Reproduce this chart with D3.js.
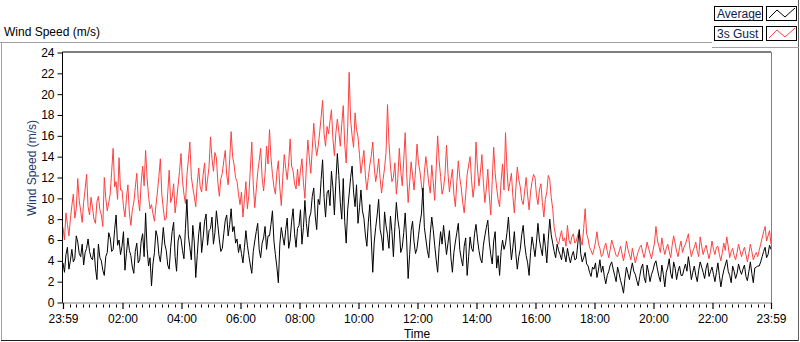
<!DOCTYPE html>
<html>
<head>
<meta charset="utf-8">
<script src="https://cdn.jsdelivr.net/npm/d3@7"></script>
<style>
  html, body { margin: 0; padding: 0; background: #fff; }
  svg text { font-family: "Liberation Sans", Arial, sans-serif; font-size: 12px; }
</style>
</head>
<body>
<div id="chart"></div>
<script>
// Wind speed chart - one day, sampled every 3 minutes (23:59 -> 23:59)

const sampleMinutes = 3;

// Average wind speed (m/s) (one row per hour)
const avgSpeed = [
  3.8, 2.9, 4.6, 5.3, 3.2, 4.0, 5.1, 3.9, 4.2, 6.4, 5.8, 4.7, 4.4, 5.6, 3.6, 4.8, 5.2, 6.1, 4.9, 4.3,
  4.1, 5.2, 3.3, 2.2, 5.6, 4.3, 4.0, 3.1, 2.6, 4.4, 4.8, 6.7, 6.2, 4.9, 5.1, 7.0, 8.4, 5.5, 6.0, 4.6,
  5.4, 6.8, 3.1, 4.7, 6.2, 5.0, 4.5, 3.4, 2.8, 4.9, 5.7, 3.8, 4.1, 5.9, 6.6, 4.4, 8.6, 5.2, 3.5, 4.3,
  1.6, 3.7, 4.8, 6.9, 6.3, 4.6, 3.9, 5.4, 7.2, 5.6, 5.0, 3.6, 3.2, 5.3, 6.8, 7.7, 4.4, 3.0, 5.9, 6.5,
  6.1, 5.0, 4.2, 7.1, 9.9, 6.4, 5.3, 4.1, 7.4, 5.8, 2.4, 4.5, 6.6, 7.7, 4.8, 6.2, 7.8, 8.5, 5.5, 6.9,
  7.1, 8.2, 5.6, 6.7, 8.8, 7.4, 6.0, 4.9, 5.2, 6.6, 7.9, 8.4, 6.4, 7.5, 9.0, 6.8, 7.3, 5.7, 6.1, 4.8,
  5.6, 4.7, 3.8, 5.3, 6.9, 5.5, 4.5, 3.6, 2.8, 4.9, 5.9, 6.8, 7.6, 5.1, 4.3, 5.7, 6.2, 7.3, 5.1, 6.4,
  6.4, 7.5, 8.8, 5.9, 4.6, 3.4, 1.9, 5.6, 7.2, 6.3, 5.5, 7.0, 8.1, 5.2, 6.0, 7.8, 9.0, 6.6, 5.3, 7.1,
  7.4, 8.9, 5.6, 7.2, 9.8, 7.6, 6.3, 8.1, 8.6, 10.2, 11.0, 8.3, 7.0, 9.9, 9.4, 11.8, 13.7, 10.1, 8.2, 10.5,
  10.8, 9.3, 12.6, 11.0, 8.4, 11.6, 14.3, 12.2, 9.6, 8.0, 11.9, 7.8, 5.7, 8.9, 10.4, 12.0, 13.1, 10.6, 9.2, 11.3,
  7.6, 9.1, 10.8, 8.8, 8.1, 6.5, 5.4, 7.7, 9.4, 6.1, 2.9, 5.8, 7.2, 8.4, 9.9, 7.0, 6.3, 5.0, 8.7, 7.4,
  6.5, 5.2, 8.3, 6.8, 4.4, 7.3, 9.6, 8.0, 7.0, 4.8, 5.3, 6.7, 8.6, 5.9, 2.3, 4.6, 6.9, 7.8, 5.8, 4.7,
  5.2, 6.4, 7.6, 8.5, 11.0, 7.2, 6.1, 5.0, 4.3, 6.6, 8.2, 7.0, 5.5, 4.1, 2.9, 5.3, 6.8, 5.6, 7.4, 6.0,
  4.6, 5.7, 6.9, 4.3, 2.9, 4.8, 5.8, 6.7, 7.6, 5.1, 4.2, 3.5, 5.4, 6.2, 2.6, 4.4, 6.3, 5.2, 4.9, 6.6,
  7.5, 6.1, 5.0, 4.2, 3.8, 5.5, 6.4, 7.2, 7.9, 5.8, 4.6, 3.7, 5.9, 6.8, 3.3, 4.5, 2.6, 4.9, 6.0, 5.1,
  5.6, 6.7, 8.2, 5.9, 4.1, 5.3, 6.8, 4.7, 3.2, 4.4, 5.1, 6.5, 7.4, 5.6, 4.5, 3.8, 2.6, 4.8, 6.3, 5.4,
  4.4, 5.8, 7.6, 6.0, 5.2, 4.5, 6.6, 5.4, 3.8, 6.1, 8.0, 6.5, 5.7, 4.9, 4.3, 5.6, 5.0, 4.6, 4.1, 5.3,
  4.6, 3.9, 5.2, 4.4, 3.8, 4.5, 4.9, 4.1, 4.2, 5.6, 7.0, 4.7, 3.9, 4.3, 4.8, 3.7, 3.5, 2.9, 2.5, 3.4,
  3.2, 3.8, 2.4, 3.1, 4.1, 2.9, 3.5, 2.5, 1.8, 2.6, 3.0, 3.6, 3.9, 3.2, 2.6, 2.0, 3.4, 2.8, 2.1, 1.6,
  0.9, 2.3, 3.4, 2.8, 2.2, 3.1, 3.8, 3.0, 2.7, 2.1, 1.6, 2.5, 3.3, 3.7, 2.4, 1.9, 3.6, 2.9, 2.0, 2.7,
  3.1, 3.7, 4.0, 3.2, 2.5, 2.0, 3.6, 2.7, 1.5, 2.9, 3.4, 4.2, 2.8, 2.3, 3.9, 3.3, 2.2, 3.0, 3.5, 2.6,
  2.6, 3.2, 3.7, 3.0, 4.4, 3.4, 2.2, 2.9, 3.5, 2.6, 2.0, 3.1, 3.9, 3.4, 2.9, 2.3, 3.3, 3.8, 2.5, 3.0,
  3.4, 2.7, 2.0, 2.9, 3.8, 2.6, 1.5, 2.4, 3.1, 3.6, 4.1, 3.0, 2.6, 1.9, 3.5, 3.0, 2.3, 2.8, 3.7, 3.1,
  2.7, 3.2, 3.6, 2.5, 2.1, 3.0, 3.9, 2.8, 1.9, 3.3, 3.4, 3.5, 3.5, 3.9, 4.4, 4.9, 5.3, 4.3, 4.6, 5.5, 5.1
];

// 3 second gust (m/s) (one row per hour)
const gustSpeed = [
  7.2, 6.0, 8.6, 7.5, 6.4, 8.0, 9.3, 10.4, 8.1, 9.0, 11.9, 9.8, 8.8, 7.7, 9.6, 10.9, 12.3, 9.2, 8.4, 10.1,
  9.1, 8.0, 7.6, 9.7, 10.2, 8.9, 8.4, 7.3, 12.0, 10.0, 8.8, 9.6, 10.4, 12.6, 14.8, 11.1, 11.6, 9.9, 13.9, 10.8,
  10.8, 9.2, 8.2, 10.0, 11.3, 8.6, 7.4, 8.9, 9.6, 11.0, 12.4, 9.9, 8.8, 11.5, 13.1, 11.2, 14.6, 12.0, 10.2, 9.0,
  9.4, 8.5, 7.8, 9.3, 10.6, 12.1, 13.8, 10.4, 9.0, 7.9, 8.1, 10.5, 12.7, 9.6, 10.1, 11.4, 8.6, 9.8, 11.2, 12.6,
  14.3, 11.7, 10.4, 9.5, 12.2, 13.7, 15.4, 12.1, 11.0, 10.2, 9.2, 11.4, 12.9, 11.1, 10.6, 12.3, 13.4, 10.7, 11.8, 13.0,
  15.9, 13.8, 12.6, 14.4, 13.9, 11.5, 10.2, 11.9, 12.4, 13.6, 14.6, 12.2, 11.3, 13.7, 16.4, 14.0, 13.2, 12.0, 11.6, 10.4,
  9.4, 10.6, 8.2, 9.9, 11.6, 9.0, 10.3, 12.8, 15.4, 11.3, 9.1, 10.8, 12.5, 13.6, 14.8, 12.0, 10.7, 12.4, 15.0, 13.3,
  16.6, 13.9, 12.3, 11.1, 10.4, 12.5, 13.6, 11.0, 9.3, 12.0, 14.2, 12.9, 11.8, 13.4, 15.7, 13.1, 12.6, 11.4, 10.9, 12.8,
  11.2, 12.7, 13.8, 11.5, 10.0, 13.1, 15.6, 13.9, 12.4, 14.8, 17.2, 15.3, 14.1, 15.0, 16.3, 17.8, 19.4, 16.2, 15.0, 16.9,
  16.2, 17.4, 18.5, 15.7, 14.1, 16.3, 17.6, 16.4, 15.0, 17.1, 18.9, 15.2, 13.4, 16.8, 22.1, 17.5, 16.0, 14.9, 18.2, 16.6,
  15.9, 14.2, 12.4, 13.5, 14.6, 12.2, 10.8, 12.0, 13.2, 14.1, 15.4, 13.0, 11.6, 12.5, 13.8, 11.9, 10.5, 11.8, 12.9, 14.4,
  19.0, 15.3, 13.1, 11.6, 12.0, 13.4, 10.4, 11.9, 14.8, 12.6, 11.2, 13.7, 16.3, 12.4, 9.6, 11.5, 13.5, 12.2, 10.8, 12.7,
  15.2, 13.4, 12.6, 11.3, 10.2, 12.5, 14.0, 12.8, 11.4, 10.5, 13.2, 11.6, 9.8, 12.9, 16.0, 13.6, 12.1, 10.4, 11.0, 12.3,
  15.1, 12.4, 10.6, 11.8, 12.8, 10.4, 9.2, 11.5, 13.6, 12.0, 11.0, 9.6, 8.6, 10.3, 12.3, 13.2, 14.0, 11.7, 10.1, 11.3,
  15.4, 12.9, 11.2, 12.5, 14.2, 11.5, 9.6, 10.9, 12.8, 10.3, 8.4, 11.7, 14.9, 12.4, 11.0, 9.9, 9.2, 11.6, 13.3, 10.8,
  16.3, 12.8, 10.7, 11.5, 12.4, 10.2, 8.6, 10.9, 13.0, 11.8, 11.1, 9.8, 9.4, 10.7, 12.0, 10.3, 8.9, 10.6, 11.6, 12.3,
  12.0, 10.3, 9.4, 10.8, 11.4, 9.6, 8.2, 9.9, 10.6, 12.2, 11.8, 10.1, 9.0, 7.2, 6.4, 5.8, 5.6, 6.3, 6.9, 5.9,
  6.2, 5.4, 7.4, 6.0, 5.6, 6.3, 6.6, 5.7, 5.9, 6.5, 6.8, 6.0, 5.5, 7.1, 9.0, 6.6, 6.1, 5.3, 5.0, 4.6,
  5.1, 5.8, 6.8, 5.6, 5.2, 4.4, 4.6, 5.3, 5.7, 4.9, 4.3, 5.1, 6.0, 5.5, 5.0, 4.5, 4.4, 4.9, 5.4, 4.7,
  4.0, 4.8, 5.9, 5.1, 4.6, 4.1, 5.2, 4.5, 3.8, 4.4, 4.9, 5.3, 5.5, 4.8, 4.3, 5.0, 5.8, 5.2, 4.7, 4.2,
  5.0, 5.7, 7.3, 6.0, 5.4, 4.8, 6.2, 5.3, 4.6, 5.2, 5.6, 4.9, 4.3, 5.5, 6.4, 5.7, 4.9, 4.4, 5.3, 5.9,
  4.8, 5.3, 5.6, 6.1, 6.6, 5.2, 4.4, 4.9, 5.3, 5.8, 4.9, 4.4, 6.3, 5.4, 4.6, 5.1, 5.5, 4.8, 4.2, 4.9,
  5.9, 5.1, 4.6, 5.3, 5.4, 4.6, 4.0, 4.8, 5.7, 5.0, 6.3, 5.4, 4.3, 4.9, 5.2, 4.5, 4.1, 4.8, 5.6, 5.0,
  4.4, 4.9, 5.3, 4.6, 3.9, 4.7, 5.6, 4.9, 4.1, 4.5, 4.8, 4.4, 5.0, 5.6, 6.2, 6.8, 7.3, 5.9, 6.4, 6.9, 5.6
];

// Axis ticks
const yTicks = [0, 2, 4, 6, 8, 10, 12, 14, 16, 18, 20, 22, 24];
const xTickLabels = ['23:59', '02:00', '04:00', '06:00', '08:00', '10:00', '12:00',
                     '14:00', '16:00', '18:00', '20:00', '22:00', '23:59'];

const seriesNames = ['Average', '3s Gust'];
const seriesColors = ['#000000', '#ff4040'];

document.addEventListener('DOMContentLoaded', function() {
  const width = 800;
  const height = 342;

  // plot area
  const left = 63, right = 771, top = 52.5, bottom = 302.5;

  const startTime = new Date(2000, 0, 1, 23, 59);
  const endTime = new Date(2000, 0, 2, 23, 59);
  const timeAt = i => new Date(startTime.getTime() + i * sampleMinutes * 60000);

  // major tick times: start, 02:00 .. 22:00, end
  const majorTimes = [startTime];
  for (let h = 2; h <= 22; h += 2) majorTimes.push(new Date(2000, 0, 2, h, 0));
  majorTimes.push(endTime);

  // 8 minor ticks between each pair of major ticks
  const minorTimes = [];
  for (let k = 0; k < majorTimes.length - 1; k++) {
    const a = majorTimes[k].getTime(), b = majorTimes[k + 1].getTime();
    for (let j = 1; j < 9; j++) minorTimes.push(new Date(a + (b - a) * j / 9));
  }

  const x = d3.scaleTime().domain([startTime, endTime]).range([left, right]);
  const y = d3.scaleLinear().domain([0, 24]).range([bottom, top]);

  const svg = d3.select('#chart')
    .append('svg')
    .attr('width', width)
    .attr('height', height);

  // Outer panel frame
  svg.append('line').attr('x1', 0).attr('x2', 712).attr('y1', 42.5).attr('y2', 42.5)
    .attr('stroke', '#a0a0a0');
  svg.append('line').attr('x1', 1.5).attr('x2', 1.5).attr('y1', 42.5).attr('y2', 341)
    .attr('stroke', '#a0a0a0');
  svg.append('line').attr('x1', 1).attr('x2', 799).attr('y1', 340.5).attr('y2', 340.5)
    .attr('stroke', '#202020');
  svg.append('line').attr('x1', 798.5).attr('x2', 798.5).attr('y1', 0).attr('y2', 341)
    .attr('stroke', '#606060');

  // Chart caption
  svg.append('text')
    .attr('x', 4)
    .attr('y', 36)
    .attr('fill', '#000')
    .text('Wind Speed (m/s)');

  // Plot area
  svg.append('rect')
    .attr('x', left).attr('y', top)
    .attr('width', right - left).attr('height', bottom - top)
    .attr('fill', '#fff');

  svg.append('defs').append('clipPath').attr('id', 'plot-clip')
    .append('rect')
    .attr('x', left).attr('y', top - 1)
    .attr('width', right - left).attr('height', bottom - top + 1);

  const line = d3.line()
    .x((d, i) => x(timeAt(i)))
    .y(d => y(d));

  const plot = svg.append('g').attr('clip-path', 'url(#plot-clip)');

  // gust first so the average sits on top
  plot.append('path')
    .datum(gustSpeed)
    .attr('fill', 'none')
    .attr('stroke', seriesColors[1])
    .attr('stroke-width', 1)
    .attr('d', line);

  plot.append('path')
    .datum(avgSpeed)
    .attr('fill', 'none')
    .attr('stroke', seriesColors[0])
    .attr('stroke-width', 1)
    .attr('d', line);

  // Plot border: top and left dark, bottom and right grey
  svg.append('line').attr('x1', left - 0.5).attr('x2', right).attr('y1', top - 0.5).attr('y2', top - 0.5)
    .attr('stroke', '#000');
  svg.append('line').attr('x1', left - 0.5).attr('x2', left - 0.5).attr('y1', top - 0.5).attr('y2', bottom + 0.5)
    .attr('stroke', '#000');
  svg.append('line').attr('x1', left - 0.5).attr('x2', right + 0.5).attr('y1', bottom + 0.5).attr('y2', bottom + 0.5)
    .attr('stroke', '#808080');
  svg.append('line').attr('x1', right + 0.5).attr('x2', right + 0.5).attr('y1', top - 0.5).attr('y2', bottom + 0.5)
    .attr('stroke', '#808080');

  // Y axis
  const yAxis = d3.axisLeft(y)
    .tickValues(yTicks)
    .tickSize(5)
    .tickPadding(3);

  const gy = svg.append('g')
    .attr('transform', `translate(${left - 0.5},0)`)
    .call(yAxis);
  gy.select('.domain').remove();
  gy.selectAll('text')
    .attr('fill', '#000')
    .style('font-size', '12px')
    .style('font-family', '"Liberation Sans", Arial, sans-serif');

  // X axis: labelled major ticks and minor ticks
  const xAxis = d3.axisBottom(x)
    .tickValues(majorTimes)
    .tickFormat((d, i) => xTickLabels[i])
    .tickSize(6)
    .tickPadding(5);

  const gx = svg.append('g')
    .attr('transform', `translate(0,${bottom + 0.5})`)
    .call(xAxis);
  gx.select('.domain').remove();
  gx.selectAll('.tick line').attr('stroke', '#000').attr('stroke-width', 1.2);
  gx.selectAll('text')
    .attr('fill', '#000')
    .style('font-size', '12px')
    .style('font-family', '"Liberation Sans", Arial, sans-serif');

  svg.append('g')
    .selectAll('line')
    .data(minorTimes)
    .enter()
    .append('line')
    .attr('x1', d => Math.round(x(d)) + 0.5)
    .attr('x2', d => Math.round(x(d)) + 0.5)
    .attr('y1', bottom + 2)
    .attr('y2', bottom + 5)
    .attr('stroke', '#000');

  // Axis titles
  svg.append('text')
    .attr('x', (left + right) / 2)
    .attr('y', 338)
    .attr('text-anchor', 'middle')
    .attr('fill', '#000')
    .text('Time');

  svg.append('text')
    .attr('transform', 'translate(36,168) rotate(-90)')
    .attr('text-anchor', 'middle')
    .attr('fill', '#1e3a70')
    .text('Wind Speed (m/s)');

  // Legend panel (top right)
  const legend = svg.append('g').attr('class', 'legend');
  legend.append('rect')
    .attr('x', 712).attr('y', 0).attr('width', 86).attr('height', 47)
    .attr('fill', '#fff');
  legend.append('line').attr('x1', 712).attr('x2', 799).attr('y1', 47.5).attr('y2', 47.5)
    .attr('stroke', '#a0a0a0');

  legend.selectAll('.legend-item')
    .data(seriesNames)
    .enter()
    .append('g')
    .attr('class', 'legend-item')
    .attr('transform', (d, i) => `translate(0, ${i * 20})`)
    .each(function(d, i) {
      const g = d3.select(this);
      g.append('rect')
        .attr('x', 714.5).attr('y', 6.5).attr('width', 48).attr('height', 14)
        .attr('fill', '#fff').attr('stroke', '#000');
      g.append('text')
        .attr('x', 717).attr('y', 18)
        .attr('fill', '#10204a')
        .text(d);
      g.append('rect')
        .attr('x', 766.5).attr('y', 6.5).attr('width', 30).attr('height', 14)
        .attr('fill', '#fff').attr('stroke', '#000');
      g.append('polyline')
        .attr('points', '769,18 777,10 785,17 795,8')
        .attr('fill', 'none')
        .attr('stroke', seriesColors[i]);
    });
});
</script>
</body>
</html>
